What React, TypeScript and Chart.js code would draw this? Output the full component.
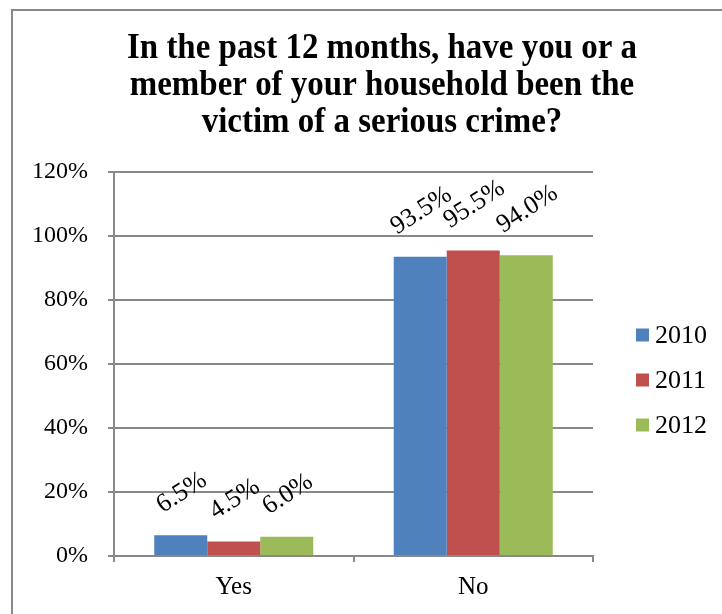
import React, { useEffect, useRef } from "react";
import { Chart, registerables } from "chart.js";

Chart.register(...registerables);

const TITLE_LINES = [
  "In the past 12 months, have you or a",
  "member of your household been the",
  "victim of a serious crime?",
];
const CATEGORIES = ["Yes", "No"];
const SERIES_NAMES = ["2010", "2011", "2012"];
const VALUES_2010 = [6.5, 93.5];
const VALUES_2011 = [4.5, 95.5];
const VALUES_2012 = [6.0, 94.0];
const SERIES_VALUES = [VALUES_2010, VALUES_2011, VALUES_2012];
const SERIES_COLORS = ["#4F81BD", "#C0504D", "#9BBB59"];
const Y_MIN = 0;
const Y_MAX = 120;
const Y_STEP = 20;

const GRAY = "#898989";
const SERIF = '"Liberation Serif", "Times New Roman", serif';

const decorPlugin = {
  id: "decor",
  beforeDraw(chart: any) {
    const ctx = chart.ctx;
    ctx.save();
    ctx.fillStyle = "#ffffff";
    ctx.fillRect(0, 0, chart.width, chart.height);
    ctx.strokeStyle = GRAY;
    ctx.lineWidth = 2;
    ctx.beginPath();
    ctx.moveTo(12, chart.height);
    ctx.lineTo(12, 10);
    ctx.lineTo(chart.width, 10);
    ctx.stroke();
    ctx.restore();
  },
  afterDraw(chart: any) {
    const ctx = chart.ctx;
    ctx.save();
    // Title (slightly tall glyphs like the reference)
    ctx.fillStyle = "#000";
    ctx.font = `bold 32px ${SERIF}`;
    ctx.textAlign = "center";
    ctx.textBaseline = "alphabetic";
    const titleX = 382;
    const baselines = [57.5, 94.5, 131.5];
    TITLE_LINES.forEach((line, i) => {
      ctx.save();
      ctx.translate(titleX, baselines[i]);
      ctx.scale(1.03, 1.1);
      ctx.fillText(line, 0, 0);
      ctx.restore();
    });

    // Legend
    const legendY = [335, 380, 425];
    ctx.font = `26px ${SERIF}`;
    ctx.textAlign = "left";
    ctx.textBaseline = "middle";
    chart.data.datasets.forEach((ds: any, i: number) => {
      ctx.fillStyle = ds.backgroundColor;
      ctx.fillRect(636, legendY[i] - 6.5, 13, 13);
      ctx.fillStyle = "#000";
      ctx.fillText(ds.label, 655, legendY[i] + 1);
    });

    // Data labels (rotated)
    const fs = 26;
    const angle = (-33 * Math.PI) / 180;
    const capH = fs * 0.68;
    ctx.font = `${fs}px ${SERIF}`;
    ctx.textAlign = "center";
    ctx.textBaseline = "alphabetic";
    ctx.fillStyle = "#000";
    chart.data.datasets.forEach((ds: any, i: number) => {
      const meta = chart.getDatasetMeta(i);
      meta.data.forEach((bar: any, j: number) => {
        const text = Number(ds.data[j]).toFixed(1) + "%";
        const w = ctx.measureText(text).width;
        const vert = w * Math.abs(Math.sin(angle)) + capH * Math.cos(angle);
        const cy = bar.y - 22 - vert / 2;
        ctx.save();
        ctx.translate(bar.x, cy);
        ctx.rotate(angle);
        ctx.fillText(text, 0, capH / 2);
        ctx.restore();
      });
    });
    ctx.restore();
  },
};

export default function App() {
  const canvasRef = useRef<HTMLCanvasElement | null>(null);

  useEffect(() => {
    const canvas = canvasRef.current;
    if (!canvas) return;
    const chart = new Chart(canvas, {
      type: "bar",
      data: {
        labels: CATEGORIES,
        datasets: SERIES_NAMES.map((name, i) => ({
          label: name,
          data: SERIES_VALUES[i],
          backgroundColor: SERIES_COLORS[i],
          borderWidth: 0,
          categoryPercentage: 0.664,
          barPercentage: 1,
        })),
      },
      options: {
        responsive: false,
        animation: false,
        devicePixelRatio: 1,
        layout: { padding: { left: 20, right: 129, top: 172, bottom: 0 } },
        plugins: {
          legend: { display: false },
          title: { display: false },
          tooltip: { enabled: false },
        },
        scales: {
          x: {
            afterFit: (scale: any) => {
              scale.height = 58;
            },
            grid: {
              drawOnChartArea: false,
              drawTicks: true,
              tickLength: 6,
              color: GRAY,
              lineWidth: 2,
              offset: true,
            },
            border: { display: true, color: GRAY, width: 2 },
            ticks: {
              color: "#000",
              font: { family: SERIF, size: 25 },
              padding: 10,
            },
          },
          y: {
            min: Y_MIN,
            max: Y_MAX,
            afterFit: (scale: any) => {
              scale.width = 94;
            },
            grid: {
              color: GRAY,
              lineWidth: 2,
              drawTicks: true,
              tickLength: 6,
            },
            border: { display: true, color: GRAY, width: 2 },
            ticks: {
              stepSize: Y_STEP,
              color: "#000",
              font: { family: SERIF, size: 24 },
              padding: 20,
              callback: (v: any) => `${v}%`,
            },
          },
        },
      },
      plugins: [decorPlugin],
    });
    return () => chart.destroy();
  }, []);

  return (
    <div style={{ position: "fixed", left: 0, top: 0, width: 722, height: 614, background: "#fff" }}>
      <canvas ref={canvasRef} width={722} height={614} style={{ display: "block" }} />
    </div>
  );
}
